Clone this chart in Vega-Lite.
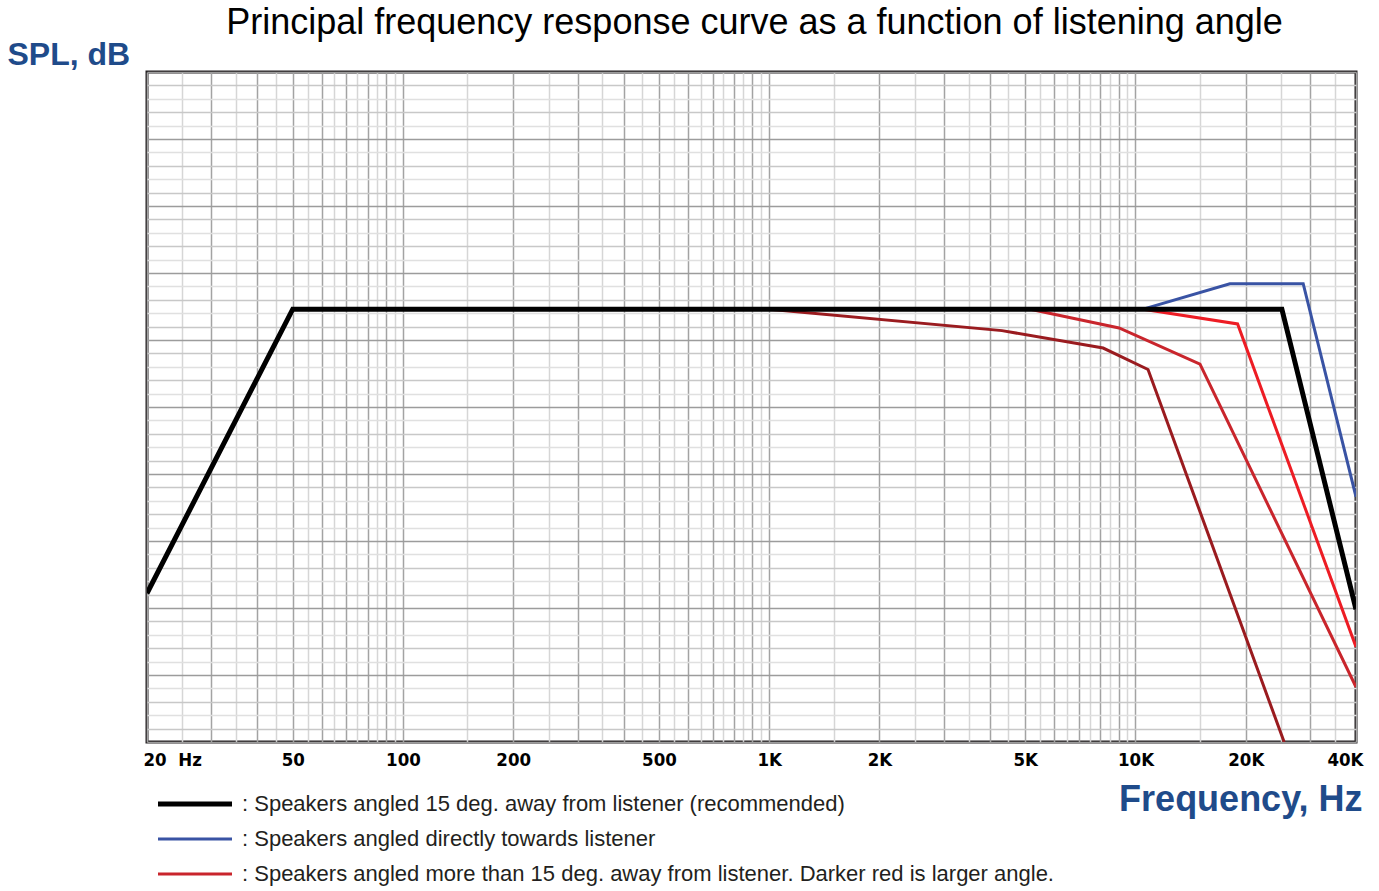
{
  "$schema": "https://vega.github.io/schema/vega-lite/v6.json",
  "width": 1209,
  "height": 670,
  "autosize": {"type": "none"},
  "padding": {"left": 147, "top": 72, "right": 23, "bottom": 149},
  "background": "white",
  "config": {
    "view": {"stroke": "#231f20", "strokeWidth": 3},
    "font": "Liberation Sans"
  },
  "title": {
    "text": "Principal frequency response curve as a function of listening angle",
    "fontSize": 36,
    "fontWeight": "normal",
    "font": "Liberation Sans",
    "color": "#000000",
    "anchor": "middle",
    "frame": "group",
    "offset": -4,
    "dx": 3
  },
  "data": {
    "values": [
      {"curve": "c15", "freq": 20, "spl": 11.1},
      {"curve": "c15", "freq": 50, "spl": 32.3},
      {"curve": "c15", "freq": 25100, "spl": 32.3},
      {"curve": "c15", "freq": 40000, "spl": 9.9},
      {"curve": "direct", "freq": 10500, "spl": 32.3},
      {"curve": "direct", "freq": 18100, "spl": 34.2},
      {"curve": "direct", "freq": 28700, "spl": 34.2},
      {"curve": "direct", "freq": 40000, "spl": 18.3},
      {"curve": "more1", "freq": 10500, "spl": 32.3},
      {"curve": "more1", "freq": 19000, "spl": 31.2},
      {"curve": "more1", "freq": 40000, "spl": 7.1},
      {"curve": "more2", "freq": 5160, "spl": 32.3},
      {"curve": "more2", "freq": 9020, "spl": 30.9},
      {"curve": "more2", "freq": 15000, "spl": 28.2},
      {"curve": "more2", "freq": 40000, "spl": 4.1},
      {"curve": "more3", "freq": 1000, "spl": 32.3},
      {"curve": "more3", "freq": 4320, "spl": 30.7},
      {"curve": "more3", "freq": 8160, "spl": 29.4},
      {"curve": "more3", "freq": 10820, "spl": 27.8},
      {"curve": "more3", "freq": 25460, "spl": 0}
    ]
  },
  "encoding": {
    "x": {
      "field": "freq",
      "type": "quantitative",
      "scale": {"type": "log", "domain": [20, 40000], "nice": false},
      "axis": {
        "values": [20,25,30,35,40,45,50,55,60,65,70,75,80,85,90,95,100,150,200,250,300,350,400,450,500,550,600,650,700,750,800,850,900,950,1000,1500,2000,2500,3000,3500,4000,4500,5000,5500,6000,6500,7000,7500,8000,8500,9000,9500,10000,15000,20000,25000,30000,35000,40000],
        "grid": true,
        "gridColor": {"condition": {"test": "(datum.value / pow(10, floor(log(datum.value) / LN10 + 1e-9))) % 1 === 0", "value": "#a3a3a3"}, "value": "#d6d6d6"},
        "gridWidth": 1.5,
        "ticks": false,
        "tickSize": 0,
        "domain": false,
        "labelExpr": "indexof([20,50,100,200,500,1000,2000,5000,10000,20000,40000], datum.value) < 0 ? '' : (datum.value == 20 ? '20\u00a0 Hz' : (datum.value < 1000 ? '' + datum.value : (datum.value / 1000) + 'K'))",
        "labelOverlap": false,
        "labelBound": false,
        "labelFlush": true,
        "labelOffset": {"condition": [{"test": "datum.value == 20", "value": -4}, {"test": "datum.value == 40000", "value": 7}], "value": 0},
        "labelFont": "DejaVu Sans Condensed, Liberation Sans Narrow, Liberation Sans, sans-serif",
        "labelFontWeight": "bold",
        "labelFontSize": 18.5,
        "labelColor": "#000000",
        "labelPadding": 8,
        "title": "Frequency, Hz",
        "titleFont": "Liberation Sans",
        "titleFontSize": 36,
        "titleFontWeight": "bold",
        "titleColor": "#1f4b8a",
        "titleAlign": "right",
        "titleAnchor": null,
        "titleBaseline": "alphabetic",
        "titleX": 1215,
        "titleY": 68
      }
    },
    "y": {
      "field": "spl",
      "type": "quantitative",
      "scale": {"domain": [0, 50], "nice": false, "zero": false},
      "axis": {
        "values": [0,1,2,3,4,5,6,7,8,9,10,11,12,13,14,15,16,17,18,19,20,21,22,23,24,25,26,27,28,29,30,31,32,33,34,35,36,37,38,39,40,41,42,43,44,45,46,47,48,49,50],
        "grid": true,
        "gridColor": {"condition": [{"test": "datum.value % 5 === 0", "value": "#9c9c9c"}, {"test": "datum.value % 2 === 1", "value": "#c8c8c8"}], "value": "#e0e0e0"},
        "gridWidth": 1.5,
        "ticks": false,
        "tickSize": 0,
        "domain": false,
        "labels": false,
        "title": "SPL, dB",
        "titleFont": "Liberation Sans",
        "titleFontSize": 32,
        "titleFontWeight": "bold",
        "titleColor": "#1f4b8a",
        "titleAngle": 0,
        "titleAlign": "left",
        "titleAnchor": null,
        "titleBaseline": "alphabetic",
        "titleX": -140,
        "titleY": -8
      }
    },
    "color": {
      "field": "curve",
      "type": "nominal",
      "scale": {
        "domain": ["c15", "direct", "more1", "more2", "more3"],
        "range": ["#000000", "#3953a4", "#ed1c24", "#c9252c", "#9a1b1f"]
      },
      "legend": {
        "values": ["c15", "direct", "more2"],
        "orient": "none",
        "legendX": 10,
        "legendY": 722,
        "padding": 0,
        "title": null,
        "symbolType": "stroke",
        "symbolSize": 5476,
        "symbolStrokeWidth": 3,
        "symbolOffset": 27,
        "clipHeight": 20,
        "rowPadding": 13,
        "labelOffset": 36,
        "labelFont": "Liberation Sans",
        "labelFontSize": 22,
        "labelColor": "#231f20",
        "labelLimit": 1000,
        "labelExpr": "datum.value == 'c15' ? ': Speakers angled 15 deg. away from listener (recommended)' : (datum.value == 'direct' ? ': Speakers angled directly towards listener' : ': Speakers angled more than 15 deg. away from listener. Darker red is larger angle.')",
        "encode": {
          "symbols": {"update": {"strokeWidth": {"signal": "datum.value === 'c15' ? 5 : 3"}}}
        }
      }
    }
  },
  "layer": [
    {
      "transform": [{"filter": "datum.curve !== 'c15'"}],
      "mark": {"type": "line", "strokeWidth": 3, "strokeCap": "butt", "strokeJoin": "miter", "clip": true}
    },
    {
      "transform": [{"filter": "datum.curve === 'c15'"}],
      "mark": {"type": "line", "strokeWidth": 5, "strokeCap": "butt", "strokeJoin": "miter", "clip": true}
    }
  ]
}
